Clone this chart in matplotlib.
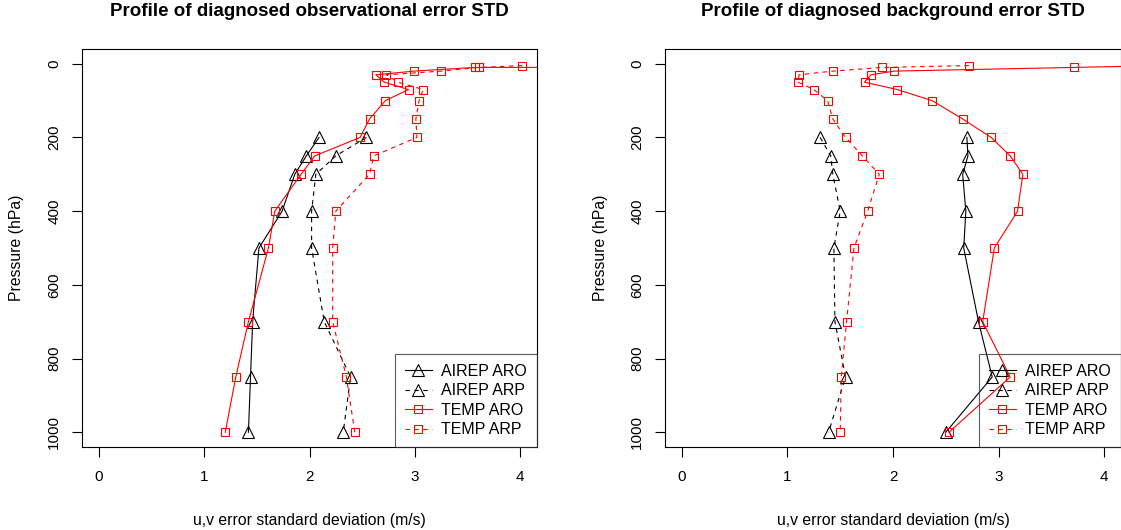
import numpy as np
import matplotlib
matplotlib.use("Agg")
import matplotlib.pyplot as plt

plt.rcParams['font.family'] = ['Liberation Sans', 'DejaVu Sans']

# pressure levels (hPa)
temp_levels = [5, 10, 20, 30, 50, 70, 100, 150, 200, 250, 300, 400, 500, 700, 850, 1000]
airep_levels = [200, 250, 300, 400, 500, 700, 850, 1000]

# observational error STD (m/s)
obs_airep_aro = [2.09, 1.97, 1.86, 1.74, 1.52, 1.46, 1.44, 1.42]
obs_airep_arp = [2.54, 2.25, 2.06, 2.02, 2.02, 2.14, 2.39, 2.32]
obs_temp_aro = [20.0, 3.57, 2.99, 2.63, 2.71, 2.94, 2.72, 2.57, 2.48, 2.05, 1.92, 1.67, 1.61, 1.42, 1.30, 1.20]
obs_temp_arp = [4.02, 3.61, 3.25, 2.73, 2.84, 3.08, 3.04, 3.01, 3.02, 2.61, 2.57, 2.25, 2.22, 2.22, 2.35, 2.43]

# background error STD (m/s)
bg_airep_aro = [2.70, 2.71, 2.66, 2.69, 2.67, 2.81, 2.94, 2.50]
bg_airep_arp = [1.31, 1.41, 1.43, 1.50, 1.44, 1.45, 1.55, 1.39]
bg_temp_aro = [4.55, 3.71, 2.01, 1.79, 1.73, 2.04, 2.37, 2.66, 2.93, 3.11, 3.23, 3.18, 2.96, 2.85, 3.11, 2.53]
bg_temp_arp = [2.72, 1.90, 1.43, 1.11, 1.10, 1.25, 1.38, 1.43, 1.55, 1.71, 1.87, 1.76, 1.63, 1.56, 1.51, 1.50]

titles = ["Profile of diagnosed observational error STD",
          "Profile of diagnosed background error STD"]
legend_labels = ["AIREP ARO", "AIREP ARP", "TEMP ARO", "TEMP ARP"]

W, H = 1121, 530
fig = plt.figure(figsize=(W / 100, H / 100), dpi=100)
# axes frames in pixels: (left, right)
frames = [(82, 537), (665, 1121)]
top, bottom = 49, 447

panels = [
    (obs_airep_aro, obs_airep_arp, obs_temp_aro, obs_temp_arp),
    (bg_airep_aro, bg_airep_arp, bg_temp_aro, bg_temp_arp),
]

dash = (0, (4, 4))
for (x0, x1), (a_aro, a_arp, t_aro, t_arp), title in zip(frames, panels, titles):
    ax = fig.add_axes([x0 / W, (H - bottom) / H, (x1 - x0) / W, (bottom - top) / H])
    tri = dict(marker='^', markersize=9, markerfacecolor='none', markeredgewidth=0.8, lw=0.8)
    sq = dict(marker='s', markersize=6, markerfacecolor='none', markeredgewidth=0.8, lw=0.8)
    ax.plot(a_aro, airep_levels, color='black', linestyle='-', label=legend_labels[0], **tri)
    ax.plot(a_arp, airep_levels, color='black', linestyle=dash, label=legend_labels[1], **tri)
    ax.plot(t_aro, temp_levels, color='red', linestyle='-', label=legend_labels[2], **sq)
    ax.plot(t_arp, temp_levels, color='red', linestyle=dash, label=legend_labels[3], **sq)

    ax.set_xlim(-0.16, 4.16)
    ax.set_ylim(1040, -40)
    ax.set_xticks([0, 1, 2, 3, 4])
    ax.set_yticks([0, 200, 400, 600, 800, 1000])
    ax.tick_params(axis='both', direction='out', length=7, width=0.8, labelsize=11)
    ax.tick_params(axis='x', pad=9.5)
    ax.tick_params(axis='y', pad=8)
    for lab in ax.get_yticklabels():
        lab.set_rotation(90)
        lab.set_va('center')
    for sp in ax.spines.values():
        sp.set_linewidth(0.8)

    cx = (x0 + x1) / 2 / W
    fig.text(cx, 1 - 11 / H, title, fontsize=13.5, fontweight='bold', ha='center', va='center')
    fig.text(cx, 1 - 521 / H, "u,v error standard deviation (m/s)", fontsize=11.3,
             ha='center', va='center')
    fig.text((x0 - 65) / W, 1 - 248 / H, "Pressure (hPa)", fontsize=11.3,
             ha='center', va='center', rotation=90)

    leg = ax.legend(loc='lower right', borderaxespad=0, fancybox=False,
                    edgecolor='#333333', facecolor='none', fontsize=11.5,
                    handlelength=1.7, handletextpad=0.6, labelspacing=0.28,
                    borderpad=0.62)
    leg.get_frame().set_linewidth(0.8)

fig.savefig("out.png", dpi=100)
